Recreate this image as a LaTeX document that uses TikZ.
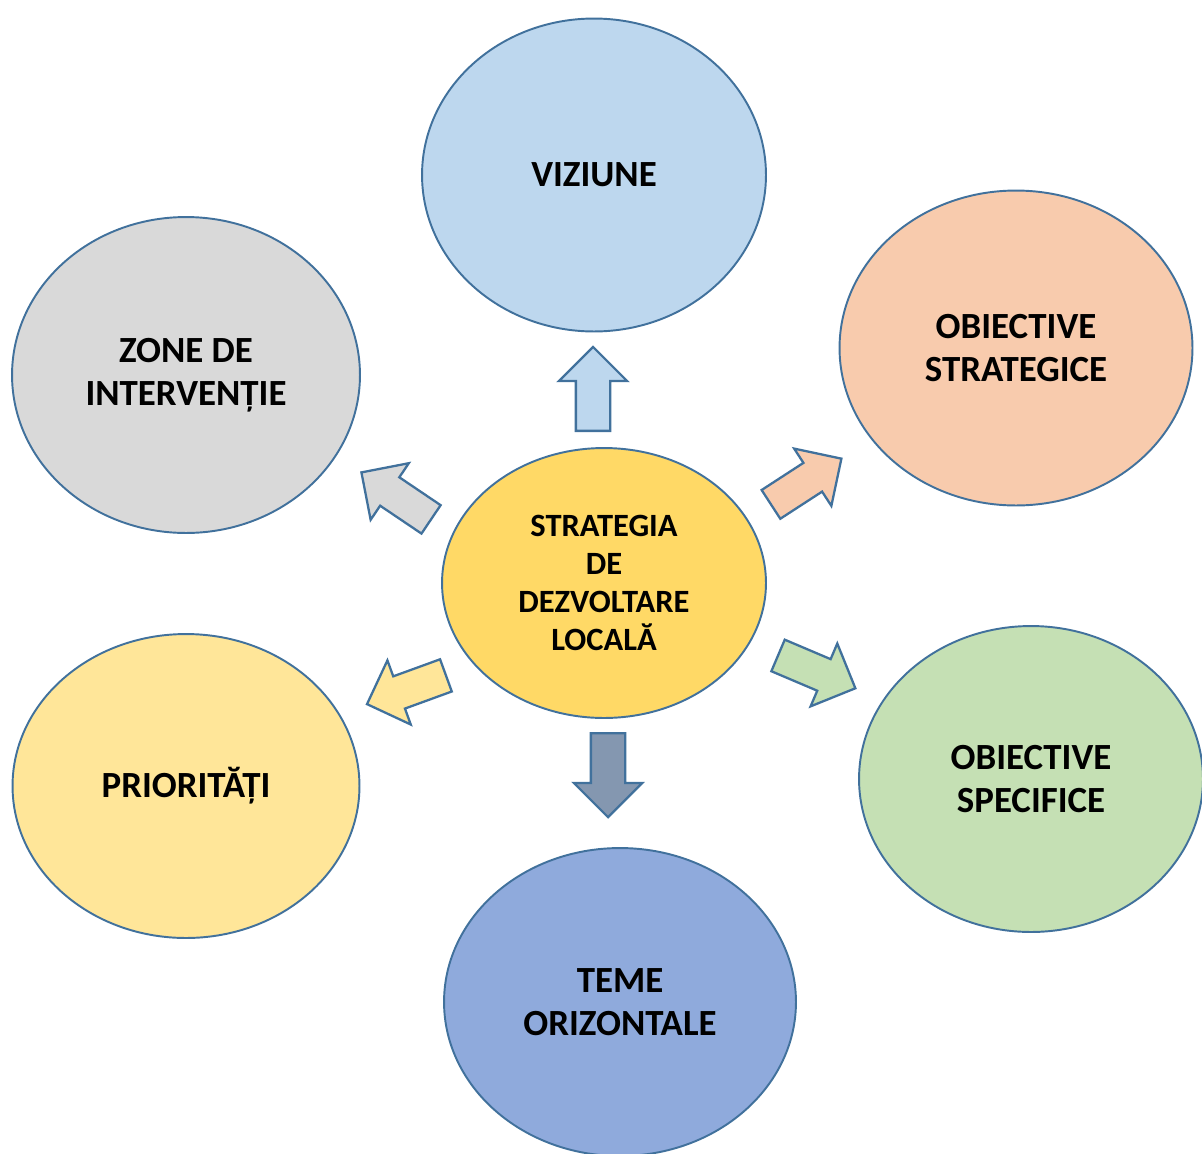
\documentclass[tikz,border=0pt]{standalone}
\usepackage{fontspec}
\setmainfont{Carlito}
\usepackage{xcolor}
\usepackage{tikz}
\usetikzlibrary{positioning,shapes.geometric,shapes.arrows}

\definecolor{rim}{HTML}{41719C}
\definecolor{vizfill}{HTML}{BDD7EE}
\definecolor{stratfill}{HTML}{F8CBAD}
\definecolor{specfill}{HTML}{C5E0B4}
\definecolor{temefill}{HTML}{8FAADC}
\definecolor{priofill}{HTML}{FFE699}
\definecolor{zonefill}{HTML}{D9D9D9}
\definecolor{cenfill}{HTML}{FFD966}
\definecolor{downfill}{HTML}{8497B0}

\begin{document}
\begin{tikzpicture}[x=0.02cm, y=-0.02cm,
  oval/.style={ellipse, draw=rim, line width=1.1pt, inner sep=0pt, align=center,
               font=\fontsize{21}{24.4}\selectfont\bfseries},
  bigarr/.style={single arrow, draw=rim, line width=1.3pt, inner sep=0pt, anchor=tail,
                 text height=0.64cm, text depth=0pt,
                 minimum height=1.68cm, minimum width=1.32cm,
                 single arrow head extend=0.34cm, single arrow head indent=0pt},
]
  \useasboundingbox (0,0) rectangle (1202,1153);

  % the six outer ellipses
  \node[oval, fill=vizfill, minimum width=6.88cm, minimum height=6.26cm] (viz) at (594,175) {VIZIUNE};
  \node[oval, fill=stratfill, minimum width=7.06cm, minimum height=6.30cm] (strat) at (1016,348) {OBIECTIVE\\STRATEGICE};
  \node[oval, fill=specfill, minimum width=6.88cm, minimum height=6.12cm] (spec) at (1031,779) {OBIECTIVE\\SPECIFICE};
  \node[oval, fill=temefill, minimum width=7.04cm, minimum height=6.16cm] (teme) at (620,1002) {TEME\\ORIZONTALE};
  \node[oval, fill=priofill, minimum width=6.94cm, minimum height=6.08cm] (prio) at (186,786) {PRIORITĂȚI};
  \node[oval, fill=zonefill, minimum width=6.96cm, minimum height=6.32cm] (zone) at (186,375) {ZONE DE\\INTERVENȚIE};

  % centre
  \node[oval, fill=cenfill, minimum width=6.48cm, minimum height=5.40cm,
        font=\fontsize{18.5}{21.5}\selectfont\bfseries] (cen) at (604,583)
        {STRATEGIA\\DE\\DEZVOLTARE\\LOCALĂ};

  % block arrows, placed by their tails
  \node[bigarr, fill=vizfill, rotate=90] (a-viz) at (593,432) {};
  \node[bigarr, fill=stratfill, rotate=33] (a-strat) at (770,505) {};
  \node[bigarr, fill=specfill, rotate=-23] (a-spec) at (777,655) {};
  \node[bigarr, fill=downfill, rotate=-90] (a-teme) at (608,732) {};
  \node[bigarr, fill=priofill, rotate=200] (a-prio) at (447,675) {};
  \node[bigarr, fill=zonefill, rotate=146] (a-zone) at (432,520) {};
\end{tikzpicture}
\end{document}
